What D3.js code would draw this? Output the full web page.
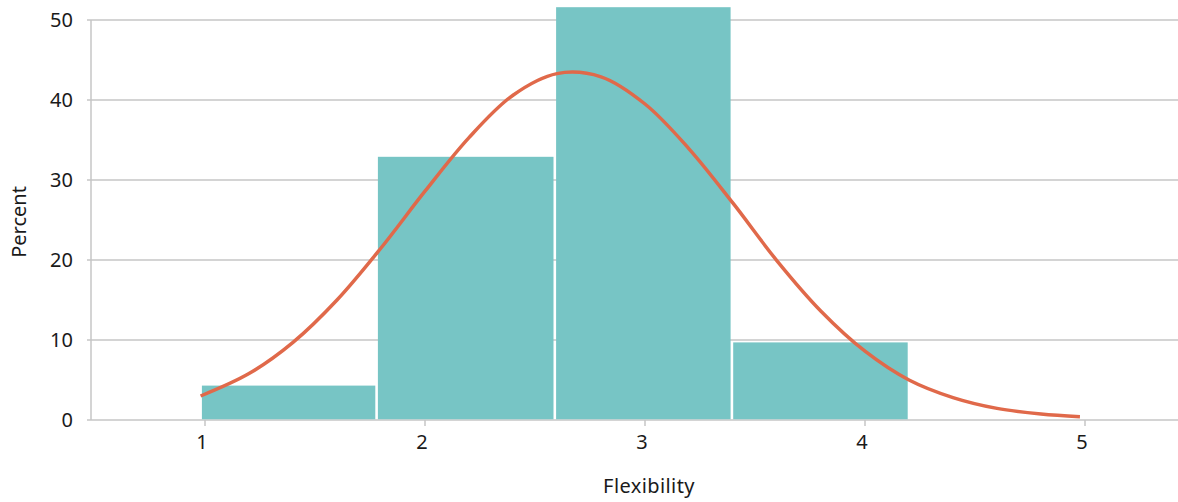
<!DOCTYPE html>
<html>
<head>
<meta charset="utf-8">
<script src="https://cdn.jsdelivr.net/npm/d3@7"></script>
<style>
  html, body { margin: 0; padding: 0; background: #fff; }
  svg { display: block; font-family: "Noto Sans", "Open Sans", sans-serif; }
</style>
</head>
<body>
<svg id="chart" width="1178" height="502"></svg>
<script>
// Histogram bins of the Flexibility score (lower edge, upper edge) and share in percent
const binStart = [0.98, 1.78, 2.59, 3.395];
const binEnd   = [1.78, 2.59, 3.395, 4.2];
const binPercent = [4.3, 32.9, 51.6, 9.7];

// Fitted normal curve, sampled along the score axis
const curveX = [0.98, 1.2, 1.4, 1.6, 1.8, 2.0, 2.2, 2.4, 2.6, 2.8, 3.0, 3.2, 3.4, 3.6, 3.8, 4.0, 4.2, 4.4, 4.6, 4.8, 4.977];
const curveY = [3.0, 5.8, 9.7, 15.0, 21.5, 28.6, 35.3, 40.6, 43.3, 42.9, 39.5, 33.9, 27.1, 19.9, 13.6, 8.6, 5.0, 2.8, 1.45, 0.75, 0.42];

const xTicks = [1, 2, 3, 4, 5];
const yTicks = [0, 10, 20, 30, 40, 50];

const svg = d3.select("#chart");
const plotLeft = 91, plotRight = 1178, plotTop = 20, plotBottom = 420;

const x = d3.scaleLinear().domain([1, 5]).range([205, 1085]);
const y = d3.scaleLinear().domain([0, 50]).range([plotBottom, plotTop]);

const gridColor = "#c6c6c6";
const textColor = "#1a1a1a";
const fontSize = 20;

// Horizontal gridlines (the zero line doubles as the x axis)
svg.append("g")
  .selectAll("line")
  .data(yTicks)
  .join("line")
  .attr("x1", plotLeft - 4)
  .attr("x2", plotRight)
  .attr("y1", d => y(d))
  .attr("y2", d => y(d))
  .attr("stroke", gridColor)
  .attr("stroke-width", 1.5);

// Y axis line
svg.append("line")
  .attr("x1", plotLeft).attr("x2", plotLeft)
  .attr("y1", plotTop).attr("y2", plotBottom)
  .attr("stroke", gridColor)
  .attr("stroke-width", 1.5);

// Y tick labels
svg.append("g")
  .selectAll("text")
  .data(yTicks)
  .join("text")
  .attr("x", plotLeft - 18)
  .attr("y", d => y(d))
  .attr("dy", "0.35em")
  .attr("text-anchor", "end")
  .attr("font-size", fontSize)
  .attr("fill", textColor)
  .text(d => d);

// X ticks and labels
const xt = svg.append("g")
  .selectAll("g")
  .data(xTicks)
  .join("g")
  .attr("transform", d => `translate(${x(d)},0)`);
xt.append("line")
  .attr("y1", plotBottom).attr("y2", plotBottom + 6)
  .attr("stroke", gridColor)
  .attr("stroke-width", 1.5);
xt.append("text")
  .attr("x", -3)
  .attr("y", plotBottom + 29)
  .attr("text-anchor", "middle")
  .attr("font-size", fontSize)
  .attr("fill", textColor)
  .text(d => d);

// Histogram bars
const gap = 1.3;
svg.append("g")
  .selectAll("rect")
  .data(binPercent)
  .join("rect")
  .attr("x", (d, i) => x(binStart[i]) + gap)
  .attr("width", (d, i) => x(binEnd[i]) - x(binStart[i]) - 2 * gap)
  .attr("y", d => y(d))
  .attr("height", d => y(0) - y(d) - 0.75)
  .attr("fill", "#77c5c5");

// Normal curve
const line = d3.line()
  .x((d, i) => x(curveX[i]))
  .y(d => y(d))
  .curve(d3.curveCatmullRom.alpha(0.5));
svg.append("path")
  .datum(curveY)
  .attr("d", line)
  .attr("fill", "none")
  .attr("stroke", "#e0694a")
  .attr("stroke-width", 3.5)
  .attr("stroke-linecap", "butt");

// Axis titles
svg.append("text")
  .attr("x", 649)
  .attr("y", 493)
  .attr("text-anchor", "middle")
  .attr("font-size", fontSize)
  .attr("letter-spacing", "0.4px")
  .attr("fill", textColor)
  .text("Flexibility");

svg.append("text")
  .attr("transform", `translate(26,${(plotTop + plotBottom) / 2 + 2}) rotate(-90)`)
  .attr("text-anchor", "middle")
  .attr("font-size", fontSize)
  .attr("fill", textColor)
  .text("Percent");
</script>
</body>
</html>
